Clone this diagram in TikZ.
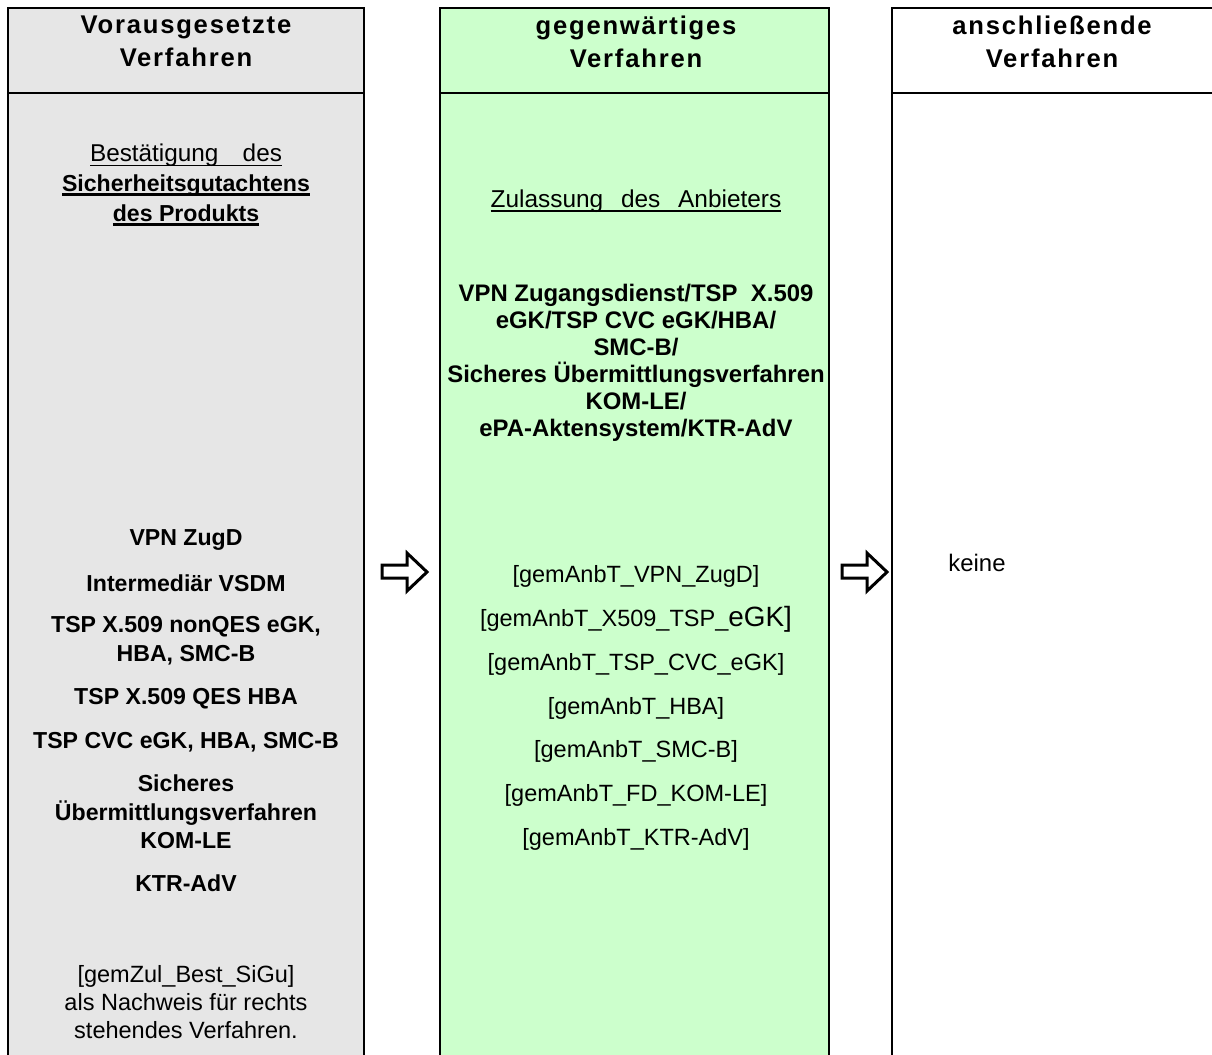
\documentclass[tikz,border=0pt]{standalone}
\usepackage{fontspec}
\setmainfont{Liberation Sans}
\definecolor{prevfill}{HTML}{E6E6E6}
\definecolor{currfill}{HTML}{CCFFCC}
% underline with own thickness
\newcommand{\undl}[2][0.9bp]{\leavevmode\setbox0\hbox{#2}\rlap{\rule[-2.4bp]{\wd0}{#1}}\box0}
\begin{document}
\begin{tikzpicture}[x=0.5bp,y=-0.5bp,line join=miter,
  colframe/.style={draw=black,line width=1bp},
  colhead/.style={align=center,inner sep=0pt,font=\fontsize{12.85}{16.5}\selectfont\bfseries\addfontfeature{LetterSpace=7}},
  regtext/.style={align=center,inner sep=0pt,font=\fontsize{11.8}{14}\selectfont},
  boldlist/.style={align=center,inner sep=0pt,font=\fontsize{11.6}{14.3}\selectfont\bfseries},
  greenbold/.style={align=center,inner sep=0pt,font=\fontsize{12}{13.5}\selectfont\bfseries},
  reflist/.style={align=center,inner sep=0pt,font=\fontsize{11.8}{22}\selectfont},
  nextarrow/.style={draw=black,fill=white,line width=1.5bp,line join=miter},
]
  \useasboundingbox (0,0) rectangle (1212,1054);
%%
  % Column: vorausgesetzte Verfahren
  \fill[prevfill] (8,8) rectangle (364,1070);
  \draw[colframe] (8,1070) -- (8,8) -- (364,8) -- (364,1070);
  \draw[colframe] (8,93) -- (364,93);
  % Column: gegenwaertiges Verfahren
  \fill[currfill] (440,8) rectangle (829,1070);
  \draw[colframe] (440,1070) -- (440,8) -- (829,8) -- (829,1070);
  \draw[colframe] (440,93) -- (829,93);
  % Column: anschliessende Verfahren
  \draw[colframe] (892,1070) -- (892,8) -- (1220,8);
  \draw[colframe] (892,93) -- (1220,93);
  % Arrows
  \draw[nextarrow] (382,565) -- (407,565) -- (407,553) -- (427,572) -- (407,591) -- (407,578) -- (382,578) -- cycle;
  \draw[nextarrow] (842,565) -- (867,565) -- (867,553) -- (887,572) -- (867,591) -- (867,578) -- (842,578) -- cycle;
  % Node: headers
  \node[colhead] (headprev) at (186,41.5) {Vorausgesetzte\\Verfahren};
  \node[colhead] (headcurr) at (636,41.5) {gegenwärtiges\\Verfahren};
  \node[colhead] (headnext) at (1052,41.5) {anschließende\\Verfahren};
  % Node: left column
  \node[regtext,font=\fontsize{12.2}{15}\selectfont] (bestsigu) at (186,185)
    {\undl{Bestätigung\hspace{1em}des}\\
     \undl[1.4bp]{\fontsize{11.6}{15}\selectfont\bfseries Sicherheitsgutachtens}\\
     \undl[1.4bp]{\fontsize{11.6}{15}\selectfont\bfseries des Produkts}};
  \node[boldlist] (vpnzugd) at (186,540) {VPN ZugD};
  \node[boldlist] (intervsdm) at (186,583) {Intermediär VSDM};
  \node[boldlist] (tspnonqes) at (186,640.5) {TSP X.509 nonQES eGK,\\HBA, SMC-B};
  \node[boldlist] (tspqes) at (186,699) {TSP X.509 QES HBA};
  \node[boldlist] (tspcvc) at (186,742) {TSP CVC eGK, HBA, SMC-B};
  \node[boldlist] (sichkom) at (186,812) {Sicheres\\Übermittlungsverfahren\\KOM-LE};
  \node[boldlist] (ktradv) at (186,883) {KTR-AdV};
  \node[regtext] (nachweis) at (186,1002)
    {{[gemZul\_Best\_SiGu]}\\als Nachweis für rechts\\stehendes Verfahren.};
  % Node: middle column
  \node[regtext,font=\fontsize{12.25}{15}\selectfont] (zulanb) at (636,201)
    {\undl{Zulassung\hspace{0.73em}des\hspace{0.73em}Anbieters}};
  \node[greenbold] (anbtypen) at (636,363)
    {VPN Zugangsdienst/TSP\ \ X.509\\eGK/TSP CVC eGK/HBA/\\SMC-B/\\Sicheres Übermittlungsverfahren\\KOM-LE/\\ePA-Aktensystem/KTR-AdV};
  \node[reflist] (anbtrefs) at (636,708)
    {{[gemAnbT\_VPN\_ZugD]}\\
     {[gemAnbT\_X509\_TSP\_{\fontsize{14}{22}\selectfont eGK]}}\\
     {[gemAnbT\_TSP\_CVC\_eGK]}\\
     {[gemAnbT\_HBA]}\\
     {[gemAnbT\_SMC-B]}\\
     {[gemAnbT\_FD\_KOM-LE]}\\
     {[gemAnbT\_KTR-AdV]}};
  % Node: right column
  \node[regtext,font=\fontsize{12}{14}\selectfont,anchor=west] (keine) at (948,563) {keine};
%
\end{tikzpicture}
\end{document}
